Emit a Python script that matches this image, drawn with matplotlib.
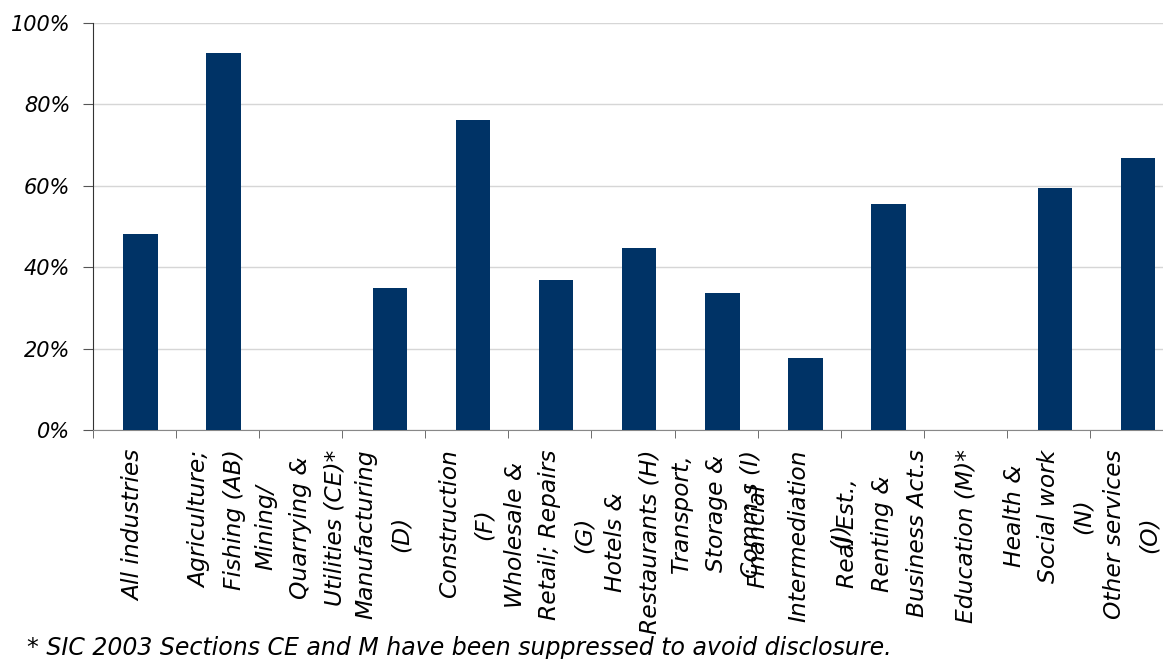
import numpy as np
import matplotlib
matplotlib.use("Agg")
import matplotlib.pyplot as plt
from matplotlib.ticker import PercentFormatter

# share of businesses by industry (suppressed sections left as NaN)
categories = [
    "All industries",
    "Agriculture;\nFishing (AB)",
    "Mining/\nQuarrying &\nUtilities (CE)*",
    "Manufacturing\n(D)",
    "Construction\n(F)",
    "Wholesale &\nRetail; Repairs\n(G)",
    "Hotels &\nRestaurants (H)",
    "Transport,\nStorage &\nComm.s (I)",
    "Financial\nIntermediation\n(J)",
    "Real Est.,\nRenting &\nBusiness Act.s",
    "Education (M)*",
    "Health &\nSocial work\n(N)",
    "Other services\n(O)",
]
values = [48.2, 92.6, np.nan, 34.9, 76.2, 36.9, 44.7, 33.7, 17.7, 55.5, np.nan, 59.5, 66.8]
y_ticks = [0, 20, 40, 60, 80, 100]
footnote = "* SIC 2003 Sections CE and M have been suppressed to avoid disclosure."

plt.rcParams['font.family'] = ['DejaVu Sans']
plt.rcParams['font.style'] = 'oblique'

fig = plt.figure(figsize=(11.63, 6.59), dpi=100)
ax = fig.add_axes([92.5/1163, 229/659, 1081/1163, 407/659])

x = np.arange(len(categories))
# bars sit a little right of the category centre, as in the original
ax.bar(x + 0.075, values, width=0.415, color='#003366', zorder=3)

ax.set_xlim(-0.5, len(categories) - 0.5)
ax.set_ylim(0, 100)
ax.set_yticks(y_ticks)
ax.yaxis.set_major_formatter(PercentFormatter(decimals=0))
ax.grid(axis='y', color='#d6d6d6', linewidth=1, zorder=0)

ax.set_xticks(x)
ax.set_xticklabels(categories, rotation=90, ha='center', va='top',
                   multialignment='center', fontsize=16.8, style='oblique',
                   linespacing=1.65)
# the Financial label is spread wider in the original
ax.get_xticklabels()[8].set_linespacing(2.0)
ax.set_xticks(np.arange(-0.5, len(categories)), minor=True)
ax.tick_params(axis='x', which='major', length=0, pad=14)
ax.tick_params(axis='x', which='minor', length=6, color='#555555')
ax.tick_params(axis='y', length=7, pad=9, labelsize=15, color='#555555')
for lbl in ax.get_yticklabels():
    lbl.set_style('oblique')

for s in ['top', 'right']:
    ax.spines[s].set_visible(False)
ax.spines['left'].set_color('#333333')
ax.spines['bottom'].set_color('#888888')

fig.text(27/1163, 4/659, footnote, fontsize=17, style='oblique', va='baseline', ha='left')

fig.savefig('out.png', dpi=100)
